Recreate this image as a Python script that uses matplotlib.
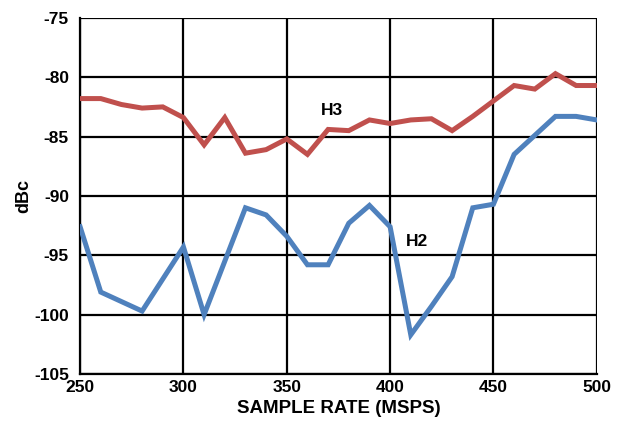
import matplotlib
matplotlib.use("Agg")
import matplotlib.pyplot as plt

rate = [250, 260, 270, 280, 290, 300, 310, 320, 330, 340, 350, 360, 370,
        380, 390, 400, 410, 420, 430, 440, 450, 460, 470, 480, 490, 500]
h3 = [-81.8, -81.8, -82.3, -82.6, -82.5, -83.4, -85.7, -83.4, -86.4, -86.1,
      -85.2, -86.5, -84.4, -84.5, -83.6, -83.9, -83.6, -83.5, -84.5, -83.3,
      -82.0, -80.7, -81.0, -79.7, -80.7, -80.7]
h2 = [-92.6, -98.1, -98.9, -99.7, -97.0, -94.3, -100.0, -95.5, -91.0, -91.6,
      -93.4, -95.8, -95.8, -92.3, -90.8, -92.6, -101.7, -99.3, -96.8, -91.0,
      -90.7, -86.5, -84.9, -83.3, -83.3, -83.6]
xticks = [250, 300, 350, 400, 450, 500]
yticks = [-105, -100, -95, -90, -85, -80, -75]

plt.rcParams['font.family'] = ['Liberation Sans', 'DejaVu Sans']
plt.rcParams['font.weight'] = 'bold'
plt.rcParams['axes.unicode_minus'] = False

fig = plt.figure(figsize=(6.21, 4.25), dpi=100)
ax = fig.add_axes([0.129, 0.12, 0.832, 0.838])

ax.plot(rate, h3, color='#C0504D', lw=3.6, solid_joinstyle='miter', zorder=3)
ax.plot(rate, h2, color='#4F81BD', lw=3.6, solid_joinstyle='miter', zorder=3)

ax.set_xlim(250, 500)
ax.set_ylim(-105, -75)
ax.set_xticks(xticks)
ax.set_yticks(yticks)
ax.grid(True, color='black', lw=1.6)
ax.set_axisbelow(True)
for s in ax.spines.values():
    s.set_visible(False)
ax.spines['left'].set_visible(True)
ax.spines['bottom'].set_visible(True)
ax.spines['left'].set_linewidth(1.6)
ax.spines['bottom'].set_linewidth(1.6)
ax.tick_params(axis='both', length=0, labelsize=12.5)
ax.tick_params(axis='y', pad=8)
ax.tick_params(axis='x', pad=4)
for lab in ax.get_xticklabels() + ax.get_yticklabels():
    lab.set_fontweight('bold')

ax.set_xlabel('SAMPLE RATE (MSPS)', fontsize=13.5, fontweight='bold', labelpad=4)
ax.set_ylabel('dBc', fontsize=13, fontweight='bold', labelpad=1)

ax.text(372, -82.8, 'H3', fontsize=12.5, fontweight='bold', ha='center', va='center')
ax.text(412.8, -93.85, 'H2', fontsize=12.5, fontweight='bold', ha='center', va='center')

fig.savefig('out.png', dpi=100)
